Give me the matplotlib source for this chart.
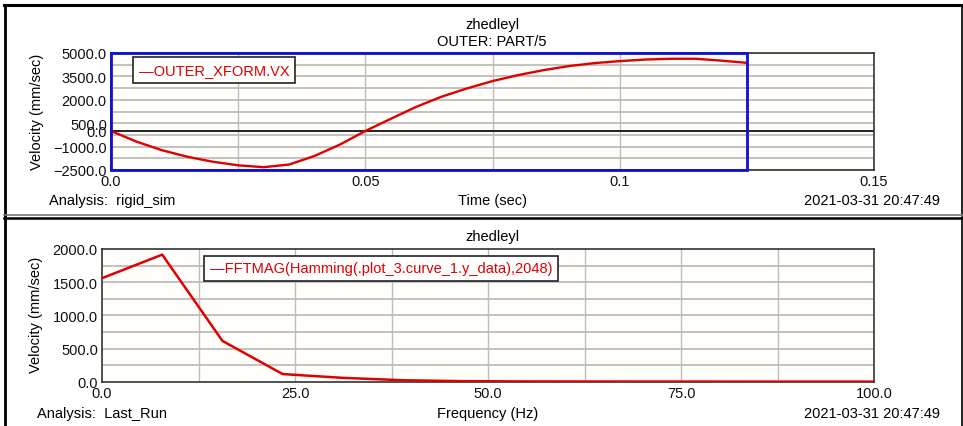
import matplotlib
matplotlib.use("Agg")
import matplotlib.pyplot as plt
from matplotlib.lines import Line2D
from matplotlib.patches import Rectangle

plt.rcParams['font.family'] = ['Liberation Sans', 'DejaVu Sans']

# ---- data -------------------------------------------------------------
time_s = [0.000, 0.005, 0.010, 0.015, 0.020, 0.025, 0.030, 0.035, 0.040,
          0.045, 0.050, 0.055, 0.060, 0.065, 0.070, 0.075, 0.080, 0.085,
          0.090, 0.095, 0.100, 0.105, 0.110, 0.115, 0.120, 0.125]
velocity_x = [0, -680, -1230, -1650, -1970, -2200, -2320, -2150, -1600,
              -870, 0, 780, 1550, 2200, 2730, 3200, 3580, 3900,
              4160, 4350, 4480, 4580, 4630, 4630, 4510, 4370]

freq_hz = [0.0, 7.8, 15.6, 23.4, 31.2, 39.0, 46.8, 54.6, 62.4, 70.2,
           78.0, 85.8, 93.6, 101.4]
fft_mag = [1560, 1915, 615, 115, 58, 22, 8, 4, 3, 2, 2, 1, 1, 1]

top_yticks = [5000, 3500, 2000, 500, 0, -1000, -2500]
top_xticks = [0.0, 0.05, 0.1, 0.15]
top_xtick_labels = ["0.0", "0.05", "0.1", "0.15"]
bot_yticks = [0, 500, 1000, 1500, 2000]
bot_xticks = [0.0, 25.0, 50.0, 75.0, 100.0]

W, H = 963, 427
fig = plt.figure(figsize=(W / 100, H / 100), dpi=100)
fig.patch.set_facecolor("white")

def px(x, y):
    """pixel (from top-left) -> figure fraction"""
    return x / W, 1 - y / H

FS = 10.5
GRID = "#bdbdbd"
RED = "#e00000"

# ---- top plot: velocity vs time --------------------------------------
ax1 = fig.add_axes([111 / W, 1 - 171 / H, 763 / W, 117 / H])
ax1.set_facecolor("#fffefb")
ax1.set_xlim(0, 0.15)
ax1.set_ylim(-2500, 5000)
for gy in range(-2500, 5001, 750):
    ax1.axhline(gy, color=GRID, lw=1.3, zorder=1)
for gx in [0.025, 0.05, 0.075, 0.1, 0.125]:
    ax1.axvline(gx, color=GRID, lw=1.0, zorder=1)
ax1.axhline(0, color="#222222", lw=1.4, zorder=2)
ax1.plot(time_s, velocity_x, color=RED, lw=1.7, zorder=4,
         label="\u2014OUTER_XFORM.VX")
ax1.add_patch(Rectangle((0, -2500), 0.125, 7500, fill=False,
                        edgecolor="#1010d0", lw=2.0, zorder=5, clip_on=False))
ax1.set_yticks(top_yticks)
ax1.set_yticklabels([f"{v:.1f}".replace("-", "\u2212") for v in top_yticks])
ax1.set_xticks(top_xticks)
ax1.set_xticklabels(top_xtick_labels)
ax1.tick_params(length=0, labelsize=FS, pad=3, colors="#111111")
for s in ax1.spines.values():
    s.set_color("#333333")
    s.set_linewidth(1.2)
leg1 = ax1.legend(loc="upper left", bbox_to_anchor=(0.029, 0.965),
                  borderaxespad=0, handlelength=0, handletextpad=0,
                  fancybox=False, edgecolor="#222222", framealpha=1,
                  fontsize=FS, labelcolor=RED, borderpad=0.4)
for h in leg1.legend_handles:
    h.set_visible(False)
leg1.get_frame().set_linewidth(1.2)

fig.text(*px(492, 25), "zhedleyl", ha="center", va="center", fontsize=FS)
fig.text(*px(492, 42), "OUTER: PART/5", ha="center", va="center", fontsize=FS)
fig.text(*px(37, 112), "Velocity (mm/sec)", rotation=90, ha="center",
         va="center", fontsize=FS)
fig.text(*px(49, 201), "Analysis:  rigid_sim", ha="left", va="center",
         fontsize=FS)
fig.text(*px(492, 201), "Time (sec)", ha="center", va="center", fontsize=FS)
fig.text(*px(940, 201), "2021-03-31 20:47:49", ha="right", va="center",
         fontsize=FS)

# ---- bottom plot: FFT magnitude --------------------------------------
ax2 = fig.add_axes([102 / W, 1 - 382.7 / H, 772 / W, 132.7 / H])
ax2.set_facecolor("#fffefb")
ax2.set_xlim(0, 100)
ax2.set_ylim(0, 2000)
for gy in range(250, 2000, 250):
    ax2.axhline(gy, color=GRID, lw=1.3, zorder=1)
for gx in [12.5, 25, 37.5, 50, 62.5, 75, 87.5]:
    ax2.axvline(gx, color=GRID, lw=1.0, zorder=1)
ax2.plot(freq_hz, fft_mag, color=RED, lw=1.8, zorder=4,
         label="\u2014FFTMAG(Hamming(.plot_3.curve_1.y_data),2048)")
ax2.set_yticks(bot_yticks)
ax2.set_yticklabels([f"{v:.1f}" for v in bot_yticks])
ax2.set_xticks(bot_xticks)
ax2.set_xticklabels([f"{v:.1f}" for v in bot_xticks])
ax2.tick_params(length=0, labelsize=FS, pad=3, colors="#111111")
for s in ax2.spines.values():
    s.set_color("#333333")
    s.set_linewidth(1.2)
leg2 = ax2.legend(loc="upper left", bbox_to_anchor=(0.1325, 0.95),
                  borderaxespad=0, handlelength=0, handletextpad=0,
                  fancybox=False, edgecolor="#222222", framealpha=1,
                  fontsize=FS, labelcolor=RED, borderpad=0.4)
for h in leg2.legend_handles:
    h.set_visible(False)
leg2.get_frame().set_linewidth(1.2)

fig.text(*px(492, 237), "zhedleyl", ha="center", va="center", fontsize=FS)
fig.text(*px(36, 315), "Velocity (mm/sec)", rotation=90, ha="center",
         va="center", fontsize=FS)
fig.text(*px(37, 414), "Analysis:  Last_Run", ha="left", va="center",
         fontsize=FS)
fig.text(*px(488, 414), "Frequency (Hz)", ha="center", va="center",
         fontsize=FS)
fig.text(*px(940, 414), "2021-03-31 20:47:49", ha="right", va="center",
         fontsize=FS)

# ---- panel frames ----------------------------------------------------
def fline(x0, y0, x1, y1, color="black", lw=2.0):
    a, b = px(x0, y0)
    c, d = px(x1, y1)
    fig.add_artist(Line2D([a, c], [b, d], color=color, lw=lw,
                          transform=fig.transFigure))

fline(4, 6, 962, 6, lw=2.2)
fline(5, 6, 5, 216)
fline(961.5, 6, 961.5, 216, lw=1.2)
fline(4, 215.5, 962, 215.5, color="#777777", lw=1.2)
fline(4, 218.5, 962, 218.5, lw=1.8)
fline(5, 218, 5, 427)
fline(961.5, 218, 961.5, 427, lw=1.2)

fig.savefig("out.png", dpi=100, facecolor="white")
